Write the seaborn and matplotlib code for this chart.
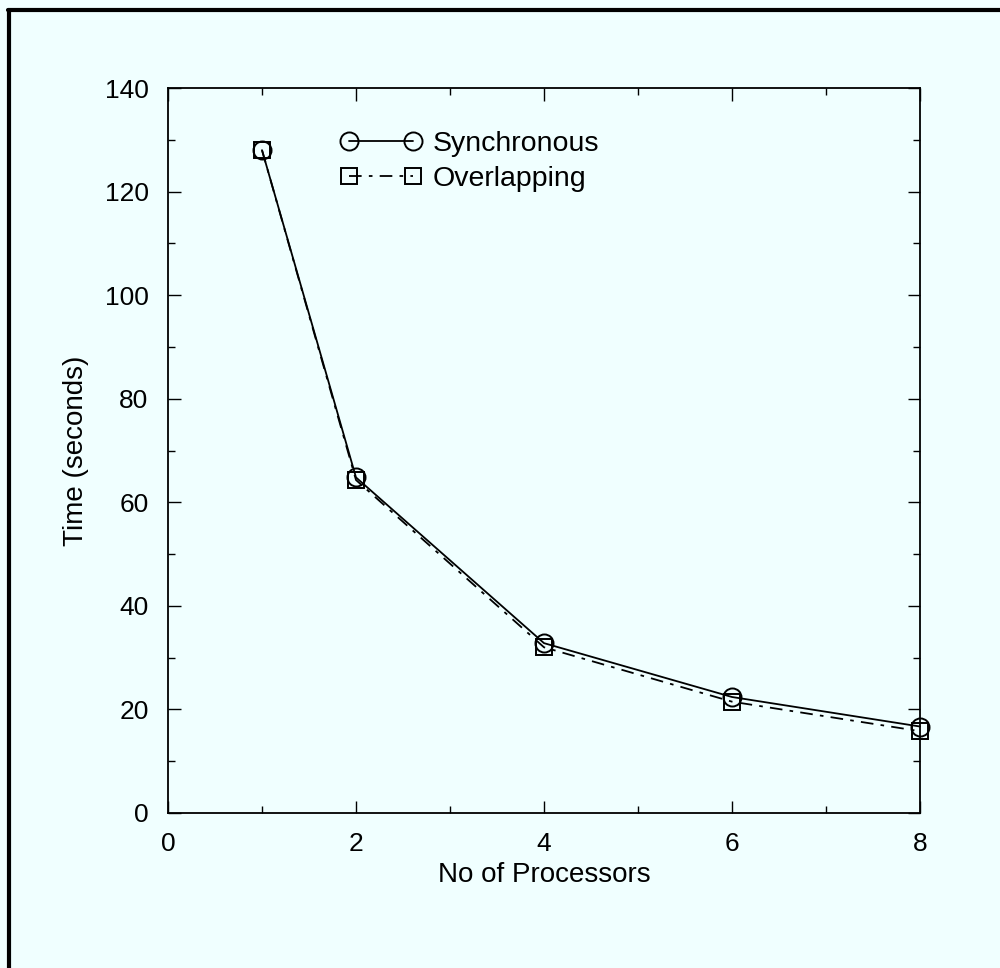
import matplotlib
matplotlib.use("Agg")
import matplotlib.pyplot as plt
import seaborn as sns
import pandas as pd
from matplotlib.lines import Line2D
from matplotlib.ticker import MultipleLocator

processors = [1, 2, 4, 6, 8]
synchronous = [128, 64.8, 32.8, 22.4, 16.7]
overlapping = [128, 64.3, 32.0, 21.5, 15.8]
series_names = ["Synchronous", "Overlapping"]

sns.set_theme(style="ticks")
plt.rcParams['font.family'] = ['Liberation Sans', 'DejaVu Sans']
plt.rcParams.update({"text.color": "black", "axes.labelcolor": "black",
                     "xtick.color": "black", "ytick.color": "black"})

BG = "#F0FFFF"
fig = plt.figure(figsize=(10, 9.68), dpi=100, facecolor=BG)
ax = fig.add_axes([0.168, 1 - 813 / 968, 0.752, (813 - 88) / 968])
ax.set_facecolor(BG)

df_s = pd.DataFrame({"x": processors, "y": synchronous})
df_o = pd.DataFrame({"x": processors, "y": overlapping})

LW = 1.3
sns.lineplot(data=df_o, x="x", y="y", ax=ax, color="black", lw=LW,
             marker="s", markersize=12, markerfacecolor="none",
             markeredgecolor="black", markeredgewidth=1.4)
ax.lines[-1].set_dashes([7, 4, 2, 4])
ax.lines[-1].set_clip_on(False)
sns.lineplot(data=df_s, x="x", y="y", ax=ax, color="black", lw=LW,
             marker="o", markersize=13, markerfacecolor="none",
             markeredgecolor="black", markeredgewidth=1.4)
ax.lines[-1].set_clip_on(False)

ax.set_xlim(0, 8)
ax.set_ylim(0, 140)
ax.xaxis.set_major_locator(MultipleLocator(2))
ax.xaxis.set_minor_locator(MultipleLocator(1))
ax.yaxis.set_major_locator(MultipleLocator(20))
ax.yaxis.set_minor_locator(MultipleLocator(10))
ax.tick_params(which="both", direction="in", top=True, right=True,
               color="black", width=1)
ax.tick_params(which="major", length=9, labelsize=19)
ax.tick_params(axis="x", which="major", pad=14)
ax.tick_params(axis="y", which="major", pad=14)
ax.tick_params(which="minor", length=5)
for sp in ax.spines.values():
    sp.set_color("black")
    sp.set_linewidth(1.3)

ax.set_xlabel("No of Processors", fontsize=20, labelpad=4)
ax.set_ylabel("Time (seconds)", fontsize=20, labelpad=11)

h1 = Line2D([], [], color="black", lw=LW, marker="o", markersize=13,
            markerfacecolor="none", markeredgewidth=1.4)
h2 = Line2D([], [], color="black", lw=LW, marker="s", markersize=12,
            markerfacecolor="none", markeredgewidth=1.4, dashes=[7, 4, 2, 4])
ax.legend([h1, h2], series_names, loc="upper left", numpoints=2,
          bbox_to_anchor=(0.195, 0.976), frameon=False, fontsize=20.5,
          handlelength=2.85, handletextpad=0.4, labelspacing=0.3)

# partial figure frame (left and top edges)
fig.add_artist(Line2D([0.009, 0.009], [0.0, 0.99], transform=fig.transFigure,
                      color="black", lw=3))
fig.add_artist(Line2D([0.008, 1.0], [0.9895, 0.9895], transform=fig.transFigure,
                      color="black", lw=3))

fig.savefig("out.png", dpi=100, facecolor=BG)
